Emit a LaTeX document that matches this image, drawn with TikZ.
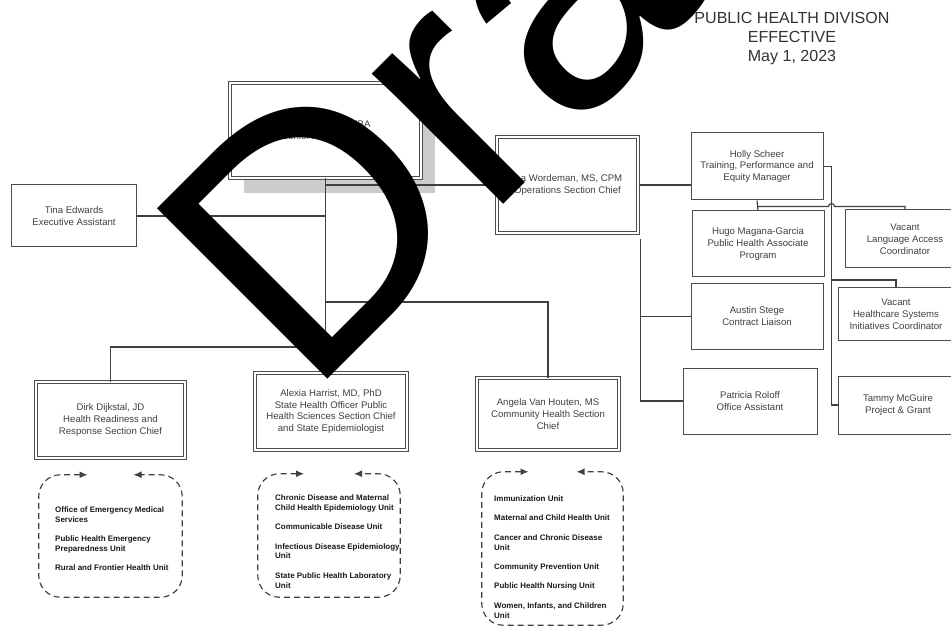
\documentclass[tikz,border=0pt]{standalone}
\usepackage{fontspec}
\setmainfont{Liberation Sans}
\usepackage{tikz}
\usetikzlibrary{shapes,arrows.meta,calc,positioning,shadows}

\begin{document}
\begin{tikzpicture}[x=0.3mm,y=-0.3mm]
				\tikzstyle{every node}=[font=\fontsize{8.2}{10.2}\selectfont, text=black!75, align=center, inner sep=0pt]
				\tikzstyle{pbox}=[rectangle, draw=black!70, line width=0.3mm, fill=white]
				\tikzstyle{dbox}=[pbox, double, double distance=0.7mm]
				\tikzstyle{link}=[draw=black!75, line width=0.35mm]
				\tikzstyle{unitbox}=[rectangle, draw=none]
				\tikzstyle{unitlist}=[font=\bfseries\fontsize{6.8}{8.5}\selectfont, text=black!90, align=left, anchor=west]
				\tikzstyle{unitframe}=[draw=black!75, line width=0.35mm, dash pattern=on 1.8mm off 1.2mm, rounded corners=6.5mm, {Latex[length=2.4mm,width=2.1mm]}-{Latex[length=2.4mm,width=2.1mm]}]
				\useasboundingbox (0,0) rectangle (951,627);
				\clip (0,0) rectangle (951,627);
				\node[font=\fontsize{13.7}{16.2}\selectfont, text=black!80] (title) at (792,39) {PUBLIC HEALTH DIVISON\\EFFECTIVE\\May 1, 2023};
				\node[dbox, minimum width=57.3mm, minimum height=28.5mm, drop shadow={shadow xshift=4.2mm, shadow yshift=-4.5mm, fill=black!20, opacity=1}] (senior) at (325.5,130.5) {\hspace*{59pt}MBA\\Senior A\hspace*{43pt}};
				\node[dbox, minimum width=42.3mm, minimum height=28.8mm] (word) at (567.5,185) {\hspace*{7pt}a Wordeman, MS, CPM\\Operations Section Chief};
				\node[pbox, minimum width=37.2mm, minimum height=18.6mm] (tina) at (74,216) {Tina Edwards\\Executive Assistant};
				\node[pbox, minimum width=39.6mm, minimum height=20.1mm] (holly) at (757,166.5) {Holly Scheer\\Training, Performance and\\Equity Manager};
				\node[pbox, minimum width=39.6mm, minimum height=19.8mm] (hugo) at (758,244) {Hugo Magana-Garcia\\Public Health Associate\\Program};
				\node[pbox, minimum width=36mm, minimum height=17.4mm] (vlang) at (905,239) {Vacant\\Language Access\\Coordinator};
				\node[pbox, minimum width=39.6mm, minimum height=19.5mm] (austin) at (757,316.5) {Austin Stege\\Contract Liaison};
				\node[pbox, minimum width=34.8mm, minimum height=15.6mm] (vhealth) at (896,314) {Vacant\\Healthcare Systems\\Initiatives Coordinator};
				\node[pbox, minimum width=40.2mm, minimum height=19.8mm] (patricia) at (750,401) {Patricia Roloff\\Office Assistant};
				\node[pbox, minimum width=36mm, minimum height=17.4mm] (tammy) at (898,405) {Tammy McGuire\\Project \& Grant};
				\node[dbox, minimum width=44.7mm, minimum height=22.8mm] (dirk) at (110.5,420) {Dirk Dijkstal, JD\\Health Readiness and\\Response Section Chief};
				\node[dbox, minimum width=45.6mm, minimum height=23.1mm] (alexia) at (331,411.5) {Alexia Harrist, MD, PhD\\State Health Officer Public\\Health Sciences Section Chief\\and State Epidemiologist};
				\node[dbox, minimum width=42.6mm, minimum height=21.6mm] (angela) at (548,414) {Angela Van Houten, MS\\Community Health Section\\Chief};
				\node[unitbox, minimum width=42.9mm, minimum height=36.6mm] (dirkU) at (110.5,536) {};
				\node[unitbox, minimum width=42.6mm, minimum height=36.9mm] (alexiaU) at (329,535.5) {};
				\node[unitbox, minimum width=42.3mm, minimum height=45.9mm] (angelaU) at (552.5,548.5) {};
				\node[unitlist] (dirkL) at (55,538.5) {Office of Emergency Medical\\Services\\[2.8mm]Public Health Emergency\\Preparedness Unit\\[2.8mm]Rural and Frontier Health Unit};
				\node[unitlist] (alexiaL) at (275,541.5) {Chronic Disease and Maternal\\Child Health Epidemiology Unit\\[2.8mm]Communicable Disease Unit\\[2.8mm]Infectious Disease Epidemiology\\Unit\\[2.8mm]State Public Health Laboratory\\Unit};
				\node[unitlist] (angelaL) at (494,557) {Immunization Unit\\[2.8mm]Maternal and Child Health Unit\\[2.8mm]Cancer and Chronic Disease\\Unit\\[2.8mm]Community Prevention Unit\\[2.8mm]Public Health Nursing Unit\\[2.8mm]Women, Infants, and Children\\Unit};
				\coordinate (wbus) at ($(word.south east)+(2,6)$);
				\coordinate (hbus) at ($(holly.east)+(8,0)$);
				\coordinate (hop) at (hbus |- holly.south);
				\draw[link] (senior.south) -- (senior.south |- alexia.north);
				\draw[link] (tina.east) -- (tina.east -| senior.south);
				\draw[link] (senior.south |- word.west) -- (word.west);
				\draw[link] (senior.south |- 0,302) -| (angela.north);
				\draw[link] (senior.south |- 0,347) -| (dirk.north);
				\draw[link] (word.east) -- (word.east -| holly.west);
				\draw[link] (wbus) |- (patricia.west);
				\draw[link] (wbus |- austin.west) -- (austin.west);
				\draw[link] (holly.east) -- (hbus) |- (tammy.west);
				\draw[link] (hbus |- 0,280) -| (vhealth.north);
				\draw[link] (holly.south) -- (hugo.north);
				\draw[link] ($(holly.south)+(0,6)$) -- ($(hop)+(-3,6)$) arc[start angle=180, end angle=0, radius=0.9mm] -| (vlang.north);
				\draw[unitframe] ($(dirkU.north)+(-23,0)$) -- (dirkU.north west) -- (dirkU.south west) -- (dirkU.south east) -- (dirkU.north east) -- ($(dirkU.north)+(23,0)$);
				\draw[unitframe] ($(alexiaU.north)+(-25,0)$) -- (alexiaU.north west) -- (alexiaU.south west) -- (alexiaU.south east) -- (alexiaU.north east) -- ($(alexiaU.north)+(25,0)$);
				\draw[unitframe] ($(angelaU.north)+(-24,0)$) -- (angelaU.north west) -- (angelaU.south west) -- (angelaU.south east) -- (angelaU.north east) -- ($(angelaU.north)+(24,0)$);
				\node[font=\fontsize{299}{299}\selectfont, text=black, rotate=45, anchor=base west] (draft) at (307,400) {Draft};
			\end{tikzpicture}
\end{document}
